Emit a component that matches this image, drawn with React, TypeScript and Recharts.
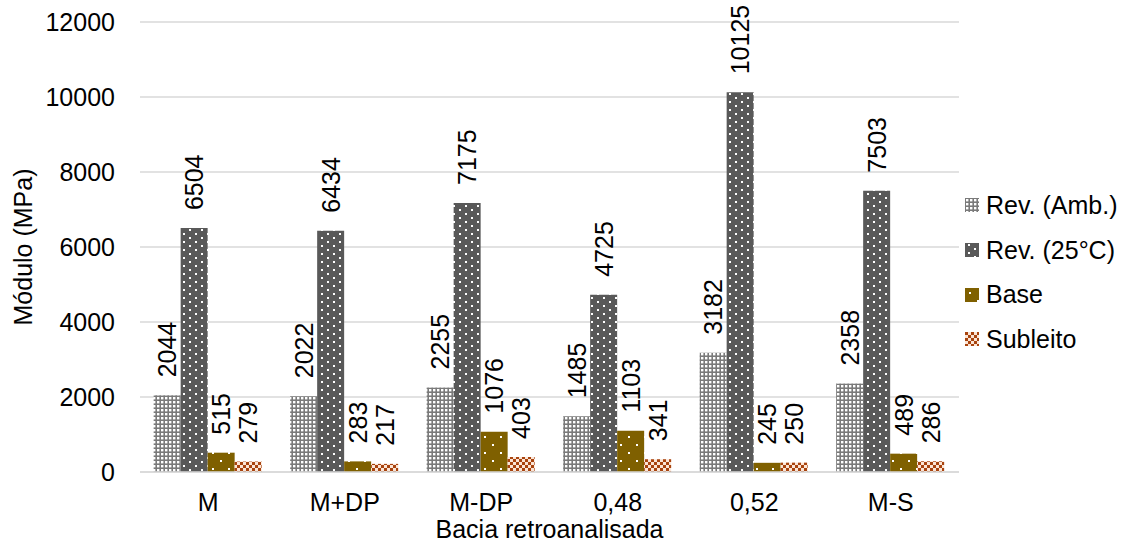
import React from 'react';
import { BarChart, Bar, XAxis, YAxis, CartesianGrid, Legend, LabelList } from 'recharts';

const categories = ['M', 'M+DP', 'M-DP', '0,48', '0,52', 'M-S'];
const revAmb = [2044, 2022, 2255, 1485, 3182, 2358];
const rev25 = [6504, 6434, 7175, 4725, 10125, 7503];
const base = [515, 283, 1076, 1103, 245, 489];
const subleito = [279, 217, 403, 341, 250, 286];
const yTicks = [0, 2000, 4000, 6000, 8000, 10000, 12000];

const seriesNames = ['Rev. (Amb.)', 'Rev. (25°C)', 'Base', 'Subleito'];
const seriesFills = ['url(#patAmb)', 'url(#pat25)', 'url(#patBase)', 'url(#patSub)'];

const data = categories.map((c, i) => ({
  cat: c,
  amb: revAmb[i],
  r25: rev25[i],
  base: base[i],
  sub: subleito[i],
}));

const FONT = "'Liberation Sans', Arial, sans-serif";
const FS = 25;

const ValueLabel = (props: any) => {
  const { x, y, width, value } = props;
  const cx = x + width / 2;
  const ty = y - 18;
  return (
    <text
      x={cx}
      y={ty}
      transform={`rotate(-90 ${cx} ${ty})`}
      textAnchor="start"
      dominantBaseline="central"
      fontSize={FS}
      fontFamily={FONT}
      fill="#000"
    >
      {value}
    </text>
  );
};

// Legend rows follow the series order, not the payload order
const LegendContent = () => (
  <div style={{ fontFamily: FONT, fontSize: FS, color: '#000' }}>
    {seriesNames.map((name, i) => (
      <div key={name} style={{ height: 44.7, display: 'flex', alignItems: 'center', paddingLeft: 6 }}>
        <svg width={14} height={14} style={{ display: 'block' }}>
          <rect x={0} y={0} width={14} height={14} fill={seriesFills[i]} />
        </svg>
        <span style={{ marginLeft: 7, whiteSpace: 'nowrap' }}>{name}</span>
      </div>
    ))}
  </div>
);

const YTitle = (props: any) => {
  const vb = props.viewBox || { x: 0, y: 22, width: 140, height: 450 };
  const cx = vb.x + 23;
  const cy = vb.y + vb.height / 2;
  return (
    <text
      x={cx}
      y={cy}
      transform={`rotate(-90 ${cx} ${cy})`}
      textAnchor="middle"
      dominantBaseline="central"
      fontSize={FS}
      fontFamily={FONT}
      fill="#000"
    >
      Módulo (MPa)
    </text>
  );
};

const XTitle = (props: any) => {
  const vb = props.viewBox || { x: 140, y: 472, width: 819, height: 77 };
  return (
    <text
      x={vb.x + vb.width / 2}
      y={538}
      textAnchor="middle"
      fontSize={FS}
      fontFamily={FONT}
      fill="#000"
    >
      Bacia retroanalisada
    </text>
  );
};

export default function App() {
  return (
    <div style={{ position: 'absolute', left: 0, top: 0, width: 1137, height: 549, background: '#fff' }}>
      <BarChart
        width={1137}
        height={549}
        data={data}
        margin={{ top: 22, right: 8, bottom: 0, left: 0 }}
        barCategoryGap="10%"
        barGap={0}
      >
        <defs>
          <pattern id="patAmb" width={4} height={4} patternUnits="userSpaceOnUse">
            <rect width={4} height={4} fill="#7a7a7a" />
            <rect x={1} y={1} width={2.4} height={2.4} fill="#ffffff" />
          </pattern>
          <pattern id="pat25" width={12} height={8} patternUnits="userSpaceOnUse">
            <rect width={12} height={8} fill="#595959" />
            <rect x={3} y={1} width={2} height={2} fill="#ffffff" />
            <rect x={9} y={5} width={2} height={2} fill="#ffffff" />
          </pattern>
          <pattern id="patBase" width={16} height={16} patternUnits="userSpaceOnUse">
            <rect width={16} height={16} fill="#7f6000" />
            <rect x={4} y={4} width={2} height={2} fill="#ffffff" />
            <rect x={12} y={12} width={2} height={2} fill="#ffffff" />
          </pattern>
          <pattern id="patSub" width={6} height={6} patternUnits="userSpaceOnUse">
            <rect width={6} height={6} fill="#fbe5d6" />
            <rect x={0} y={0} width={3} height={3} fill="#a9440f" />
            <rect x={3} y={3} width={3} height={3} fill="#a9440f" />
          </pattern>
        </defs>
        <CartesianGrid vertical={false} stroke="#d9d9d9" strokeWidth={1.5} />
        <XAxis
          dataKey="cat"
          height={77}
          tickLine={false}
          tickSize={6}
          tickMargin={15}
          axisLine={{ stroke: '#d9d9d9', strokeWidth: 1.5 }}
          tick={{ fontSize: FS, fontFamily: FONT, fill: '#000' }}
          label={<XTitle />}
        />
        <YAxis
          width={140}
          domain={[0, 12000]}
          ticks={yTicks}
          interval={0}
          tickLine={false}
          axisLine={false}
          tickSize={6}
          tickMargin={19}
          tick={{ fontSize: FS, fontFamily: FONT, fill: '#000' }}
          label={<YTitle />}
        />
        <Legend
          layout="vertical"
          align="right"
          verticalAlign="middle"
          width={170}
          wrapperStyle={{ left: 959, top: 183 }}
          content={<LegendContent />}
        />
        <Bar dataKey="amb" name={seriesNames[0]} fill={seriesFills[0]} isAnimationActive={false}>
          <LabelList dataKey="amb" content={<ValueLabel />} />
        </Bar>
        <Bar dataKey="r25" name={seriesNames[1]} fill={seriesFills[1]} isAnimationActive={false}>
          <LabelList dataKey="r25" content={<ValueLabel />} />
        </Bar>
        <Bar dataKey="base" name={seriesNames[2]} fill={seriesFills[2]} isAnimationActive={false}>
          <LabelList dataKey="base" content={<ValueLabel />} />
        </Bar>
        <Bar dataKey="sub" name={seriesNames[3]} fill={seriesFills[3]} isAnimationActive={false}>
          <LabelList dataKey="sub" content={<ValueLabel />} />
        </Bar>
      </BarChart>
    </div>
  );
}
